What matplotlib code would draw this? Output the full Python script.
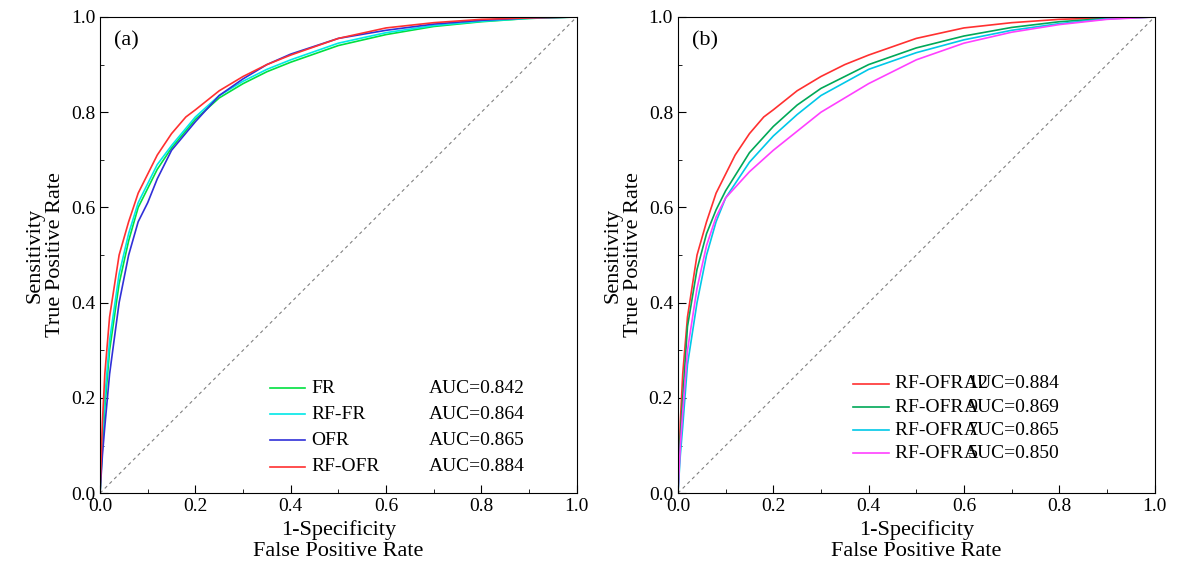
import numpy as np
import matplotlib.pyplot as plt
from matplotlib.ticker import MultipleLocator

plt.rcParams['font.family'] = ['Liberation Serif', 'DejaVu Serif']

# 曲線資料
fpr_rfofr = [0, 0.005, 0.01, 0.02, 0.04, 0.06, 0.08, 0.1, 0.12, 0.15, 0.18, 0.2, 0.25, 0.3, 0.35, 0.4, 0.5, 0.6, 0.7, 0.8, 0.9, 1.0]
tpr_rfofr = [0, 0.15, 0.25, 0.37, 0.5, 0.57, 0.63, 0.67, 0.71, 0.755, 0.79, 0.805, 0.845, 0.875, 0.9, 0.92, 0.955, 0.977, 0.988, 0.995, 0.998, 1.0]

fpr_fr = [0, 0.005, 0.01, 0.02, 0.04, 0.06, 0.08, 0.1, 0.12, 0.15, 0.2, 0.25, 0.3, 0.35, 0.4, 0.5, 0.6, 0.7, 0.8, 0.9, 1.0]
tpr_fr = [0, 0.1, 0.18, 0.3, 0.44, 0.53, 0.6, 0.64, 0.68, 0.725, 0.785, 0.83, 0.86, 0.885, 0.905, 0.94, 0.963, 0.98, 0.99, 0.997, 1.0]

fpr_rffr = fpr_fr
tpr_rffr = [0, 0.12, 0.2, 0.32, 0.46, 0.545, 0.61, 0.65, 0.69, 0.73, 0.79, 0.835, 0.865, 0.89, 0.91, 0.945, 0.967, 0.982, 0.991, 0.997, 1.0]

fpr_ofr = fpr_fr
tpr_ofr = [0, 0.08, 0.14, 0.25, 0.4, 0.5, 0.57, 0.61, 0.66, 0.72, 0.78, 0.835, 0.87, 0.9, 0.922, 0.955, 0.972, 0.985, 0.993, 0.998, 1.0]

fpr_b = [0, 0.005, 0.01, 0.02, 0.04, 0.06, 0.08, 0.1, 0.15, 0.2, 0.25, 0.3, 0.4, 0.5, 0.6, 0.7, 0.8, 0.9, 1.0]
tpr_9 = [0, 0.12, 0.2, 0.35, 0.47, 0.545, 0.595, 0.635, 0.715, 0.77, 0.815, 0.85, 0.9, 0.935, 0.96, 0.978, 0.99, 0.997, 1.0]
tpr_7 = [0, 0.08, 0.14, 0.27, 0.4, 0.5, 0.57, 0.62, 0.695, 0.75, 0.795, 0.835, 0.89, 0.925, 0.952, 0.972, 0.986, 0.996, 1.0]
tpr_5 = [0, 0.1, 0.17, 0.3, 0.43, 0.52, 0.58, 0.62, 0.675, 0.72, 0.76, 0.8, 0.86, 0.91, 0.945, 0.968, 0.984, 0.995, 1.0]

names_a = ["FR", "RF-FR", "OFR", "RF-OFR"]
auc_a = [0.842, 0.864, 0.865, 0.884]
colors_a = ["#00e040", "#00e8e8", "#3030d8", "#ff3030"]
curves_a = [(fpr_fr, tpr_fr), (fpr_rffr, tpr_rffr), (fpr_ofr, tpr_ofr), (fpr_rfofr, tpr_rfofr)]

names_b = ["RF-OFR 12", "RF-OFR 9", "RF-OFR 7", "RF-OFR 5"]
auc_b = [0.884, 0.869, 0.865, 0.850]
colors_b = ["#ff3030", "#00a858", "#00c8e8", "#ff40ff"]
curves_b = [(fpr_rfofr, tpr_rfofr), (fpr_b, tpr_9), (fpr_b, tpr_7), (fpr_b, tpr_5)]

fig = plt.figure(figsize=(11.77, 5.85), dpi=100)
ax1 = fig.add_axes([0.085, 0.157, 0.405, 0.814])
ax2 = fig.add_axes([0.576, 0.157, 0.405, 0.814])


def draw(ax, curves, names, aucs, colors, tag, line_x, auc_x, rows):
    ax.plot([0, 1], [0, 1], color="gray", lw=0.8, ls=(0, (3, 3)))
    for (x, y), c in zip(curves, colors):
        ax.plot(x, y, color=c, lw=1.2)
    for yy, n, a, c in zip(rows, names, aucs, colors):
        ax.plot([line_x, line_x + 0.075], [yy, yy], color=c, lw=1.2, transform=ax.transAxes)
        ax.text(line_x + 0.088, yy, n, transform=ax.transAxes, va="center", fontsize=14)
        ax.text(auc_x, yy, "AUC=%.3f" % a, transform=ax.transAxes, va="center", fontsize=14)
    ax.text(0.03, 0.94, tag, transform=ax.transAxes, fontsize=16)
    ax.set_xlim(0, 1)
    ax.set_ylim(0, 1)
    ax.xaxis.set_major_locator(MultipleLocator(0.2))
    ax.yaxis.set_major_locator(MultipleLocator(0.2))
    ax.xaxis.set_minor_locator(MultipleLocator(0.1))
    ax.yaxis.set_minor_locator(MultipleLocator(0.1))
    ax.xaxis.set_major_formatter(plt.FormatStrFormatter("%.1f"))
    ax.yaxis.set_major_formatter(plt.FormatStrFormatter("%.1f"))
    ax.tick_params(which="both", direction="in", labelsize=14)
    ax.tick_params(which="major", length=6)
    ax.tick_params(which="minor", length=3)
    ax.set_xlabel("1-Specificity\nFalse Positive Rate", fontsize=16, linespacing=1.1)
    ax.set_ylabel("Sensitivity\nTrue Positive Rate", fontsize=16, linespacing=1.1)


draw(ax1, curves_a, names_a, auc_a, colors_a, "(a)", 0.356, 0.69, [0.22, 0.166, 0.111, 0.055])
draw(ax2, curves_b, names_b, auc_b, colors_b, "(b)", 0.367, 0.60, [0.23, 0.18, 0.132, 0.084])

fig.savefig("out.png", dpi=100)
